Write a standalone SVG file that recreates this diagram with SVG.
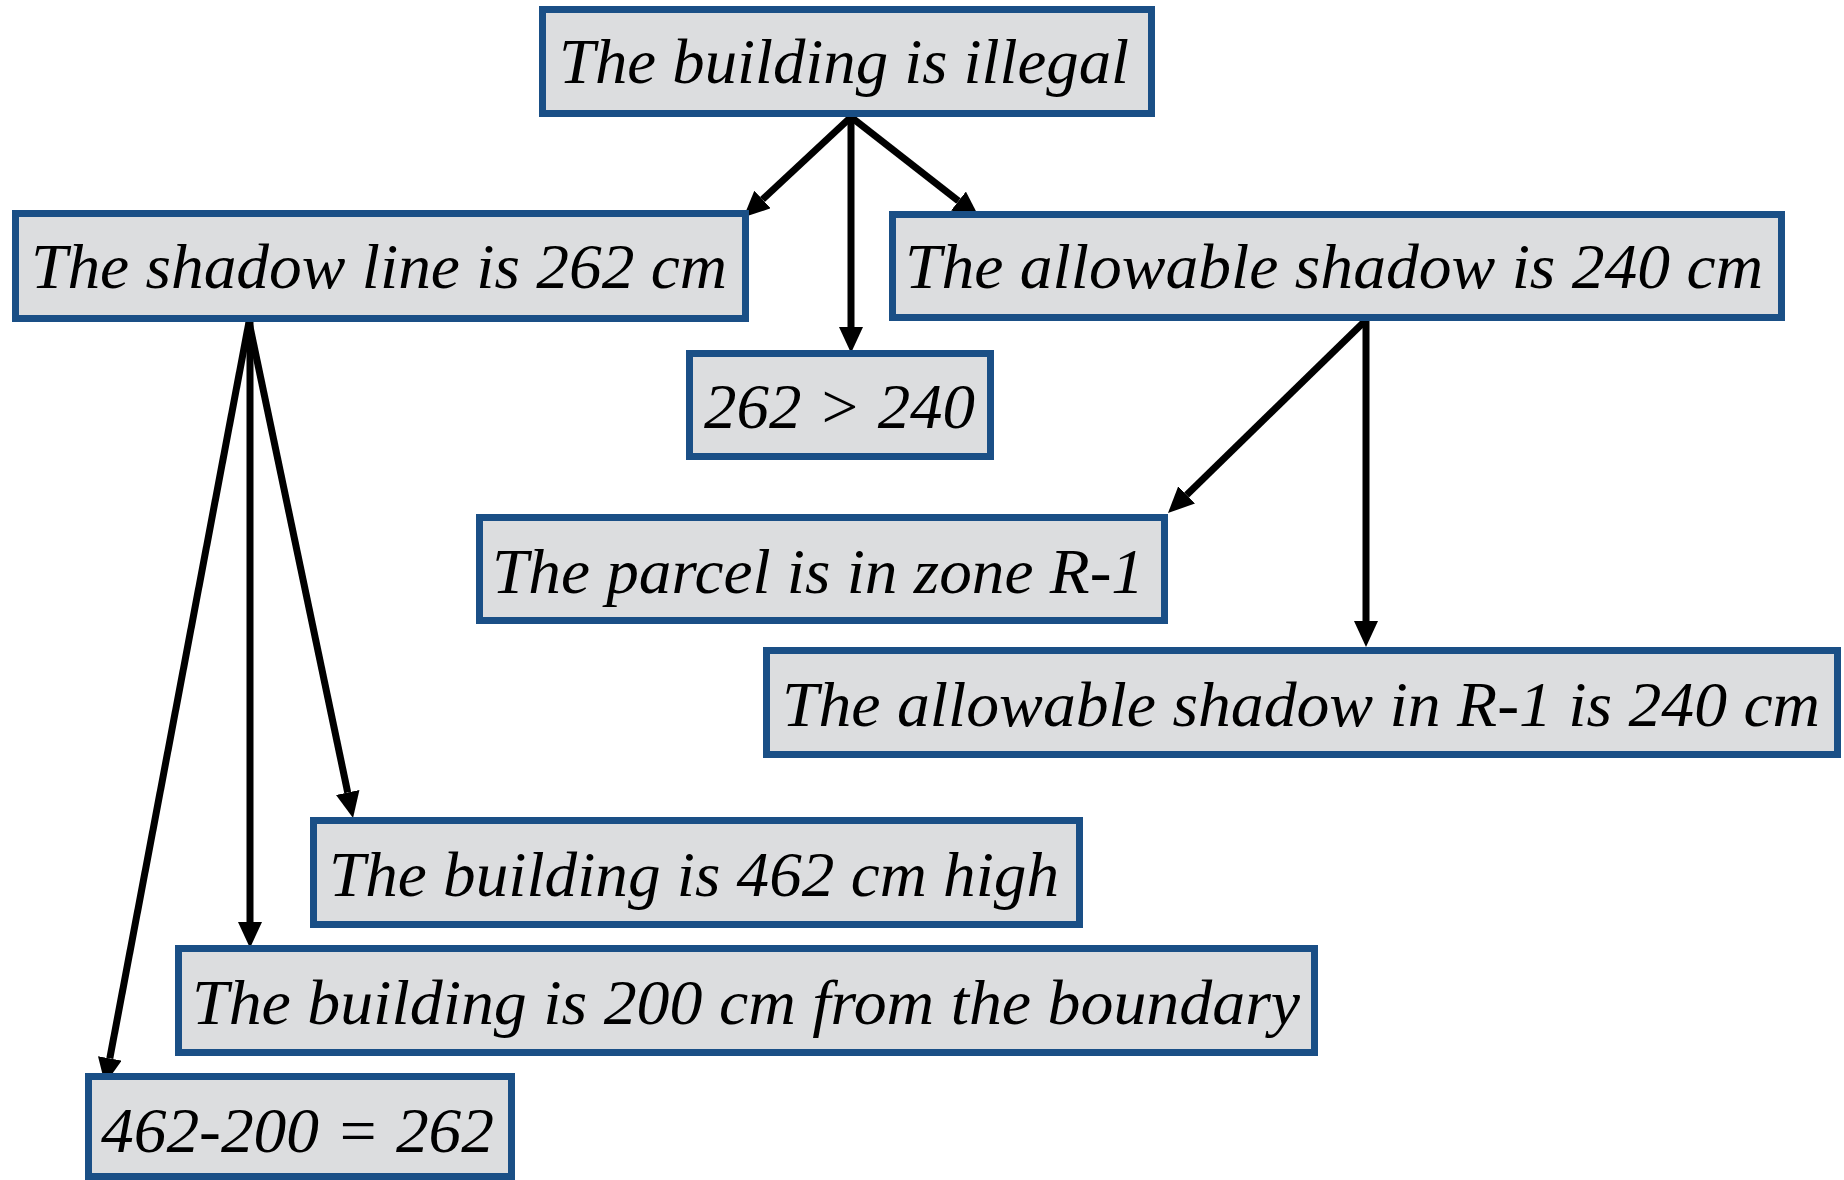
<svg xmlns="http://www.w3.org/2000/svg" width="1844" height="1180" viewBox="0 0 1844 1180">
<style>
.box{fill:#DCDDDF;stroke:#1A4F86;stroke-width:7}
.t{font-family:"Liberation Serif","Times New Roman",serif;font-style:italic;font-size:64px;fill:#000}
.c{stroke:#000;stroke-width:7;fill:none;marker-end:url(#ah)}
</style>
<defs>
<marker id="ah" markerUnits="userSpaceOnUse" markerWidth="26" markerHeight="24" refX="0" refY="12" orient="auto" viewBox="0 0 26 24">
<path d="M0,0 L26,12 L0,24 z" fill="#000"/>
</marker>
</defs>
<rect width="1844" height="1180" fill="#fff"/>
<g id="connectors">
<line class="c" x1="851" y1="117" x2="762.5" y2="199.5"/>
<line class="c" x1="851" y1="117" x2="851" y2="327"/>
<line class="c" x1="851" y1="117" x2="958.5" y2="201"/>
<line class="c" x1="1366" y1="320" x2="1186.6" y2="494.9"/>
<line class="c" x1="1366" y1="320" x2="1366" y2="621"/>
<line class="c" x1="249" y1="322" x2="347.7" y2="792.5"/>
<line class="c" x1="250" y1="322" x2="250" y2="922"/>
<line class="c" x1="249" y1="322" x2="109.8" y2="1058.4"/>
</g>
<g id="n-illegal"><rect class="box" x="542.5" y="9.5" width="609" height="104"/><text class="t" x="559" y="83" textLength="570" lengthAdjust="spacingAndGlyphs">The building is illegal</text></g>
<g id="n-shadow"><rect class="box" x="15.5" y="213.5" width="730" height="105"/><text class="t" x="31" y="288" textLength="696" lengthAdjust="spacingAndGlyphs">The shadow line is 262 cm</text></g>
<g id="n-allowable"><rect class="box" x="892.5" y="214.5" width="889" height="103"/><text class="t" x="905" y="288" textLength="858" lengthAdjust="spacingAndGlyphs">The allowable shadow is 240 cm</text></g>
<g id="n-compare"><rect class="box" x="689.5" y="353.5" width="301" height="103"/><text class="t" x="704" y="428" textLength="271" lengthAdjust="spacingAndGlyphs">262 &gt; 240</text></g>
<g id="n-parcel"><rect class="box" x="479.5" y="517.5" width="685" height="103"/><text class="t" x="492" y="593" textLength="652" lengthAdjust="spacingAndGlyphs">The parcel is in zone R-1</text></g>
<g id="n-r1"><rect class="box" x="766.5" y="650.5" width="1071" height="104"/><text class="t" x="782" y="726" textLength="1038" lengthAdjust="spacingAndGlyphs">The allowable shadow in R-1 is 240 cm</text></g>
<g id="n-high"><rect class="box" x="313.5" y="820.5" width="766" height="104"/><text class="t" x="329" y="896" textLength="730" lengthAdjust="spacingAndGlyphs">The building is 462 cm high</text></g>
<g id="n-boundary"><rect class="box" x="178.5" y="948.5" width="1136" height="104"/><text class="t" x="192" y="1024" textLength="1108" lengthAdjust="spacingAndGlyphs">The building is 200 cm from the boundary</text></g>
<g id="n-calc"><rect class="box" x="88.5" y="1076.5" width="423" height="100"/><text class="t" x="101" y="1152" textLength="393" lengthAdjust="spacingAndGlyphs">462-200 = 262</text></g>
</svg>
